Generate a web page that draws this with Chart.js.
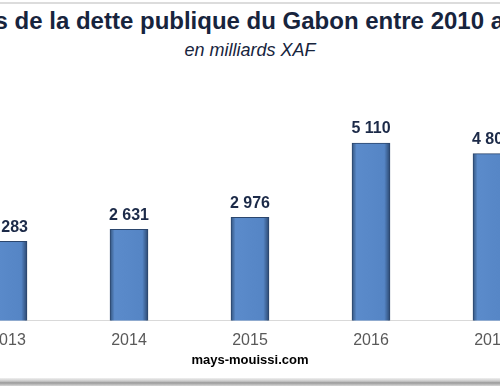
<!DOCTYPE html>
<html>
<head>
<meta charset="utf-8">
<script src="https://cdn.jsdelivr.net/npm/chart.js@4/dist/chart.umd.min.js"></script>
<style>
  html, body { margin: 0; padding: 0; background: #fff; }
  #wrap { position: relative; width: 500px; height: 387px; overflow: hidden; background: #fff; font-family: "Liberation Sans", Arial, sans-serif; }
  .line { position: absolute; left: 0; width: 500px; display: flex; justify-content: center; white-space: nowrap; }
  #title { top: 7px; font-size: 24px; font-weight: bold; color: #17243d; }
  #title span { transform: translateX(-12px); }
  #subtitle { top: 40px; font-size: 18px; font-style: italic; color: #17243d; }
  #source { top: 352px; font-size: 13px; font-weight: bold; color: #000; }
  #topline { position: absolute; left: 0; top: 2px; width: 500px; height: 2px; background: #dcdcdc; }
  #botline { position: absolute; left: 0; top: 378px; width: 500px; height: 8px;
    background: linear-gradient(#f0f0f0, #c8c8c8 40%, #9a9a9a 60%, #d8d8d8); }
  #chartBox { position: absolute; left: -60px; top: 83px; width: 620px; height: 280px; }
</style>
</head>
<body>
<div id="wrap">
  <div id="topline"></div>
  <div class="line" id="title"><span>Encours de la dette publique du Gabon entre 2010 a 2017</span></div>
  <div class="line" id="subtitle"><span>en milliards XAF</span></div>
  <div id="chartBox"><canvas id="barChartDette"></canvas></div>
  <div class="line" id="source"><span>mays-mouissi.com</span></div>
  <div id="botline"></div>
</div>
<script>
const years = ['2013', '2014', '2015', '2016', '2017'];
const dette = [2283, 2631, 2976, 5110, 4803];

// format "2 631" style
function fmt(v) {
    return String(v).replace(/\B(?=(\d{3})+(?!\d))/g, ' ');
}

const barWidth = 38;

const valueLabels = {
    id: 'valueLabels',
    afterDatasetsDraw(chart) {
        const ctx = chart.ctx;
        const meta = chart.getDatasetMeta(0);
        ctx.save();
        ctx.font = 'bold 16px "Liberation Sans", Arial, sans-serif';
        ctx.fillStyle = '#1c2a48';
        ctx.textAlign = 'center';
        ctx.textBaseline = 'bottom';
        meta.data.forEach((bar, i) => {
            ctx.fillText(fmt(dette[i]), bar.x, bar.y - 6);
        });
        ctx.restore();
    }
};

const ctx = document.getElementById('barChartDette').getContext('2d');
const barChart = new Chart(ctx, {
    type: 'bar',
    data: {
        labels: years,
        datasets: [{
            label: 'Dette publique',
            data: dette,
            barThickness: barWidth,
            borderColor: '#2b466d',
            borderWidth: 1,
            backgroundColor: (c) => {
                const chart = c.chart;
                if (!chart.chartArea) return '#5585c5';
                const x = chart.scales.x.getPixelForValue(c.dataIndex);
                const g = chart.ctx.createLinearGradient(x - barWidth / 2, 0, x + barWidth / 2, 0);
                g.addColorStop(0, '#34557f');
                g.addColorStop(0.12, '#5b8bcb');
                g.addColorStop(0.85, '#5585c5');
                g.addColorStop(1, '#2c4870');
                return g;
            },
        }],
    },
    options: {
        responsive: true,
        maintainAspectRatio: false,
        animation: false,
        layout: { padding: { left: 7.5, right: 7.5, top: 29, bottom: 3 } },
        plugins: {
            legend: { display: false },
            tooltip: { enabled: false },
        },
        scales: {
            x: {
                grid: { display: false, drawTicks: false },
                border: { display: true, color: '#d9d9d9', width: 1 },
                ticks: {
                    padding: 10,
                    color: '#595959',
                    font: { size: 16, family: '"Liberation Sans", Arial, sans-serif' },
                },
            },
            y: {
                display: false,
                min: 0,
                max: 6000,
            },
        },
    },
    plugins: [valueLabels],
});
</script>
</body>
</html>
